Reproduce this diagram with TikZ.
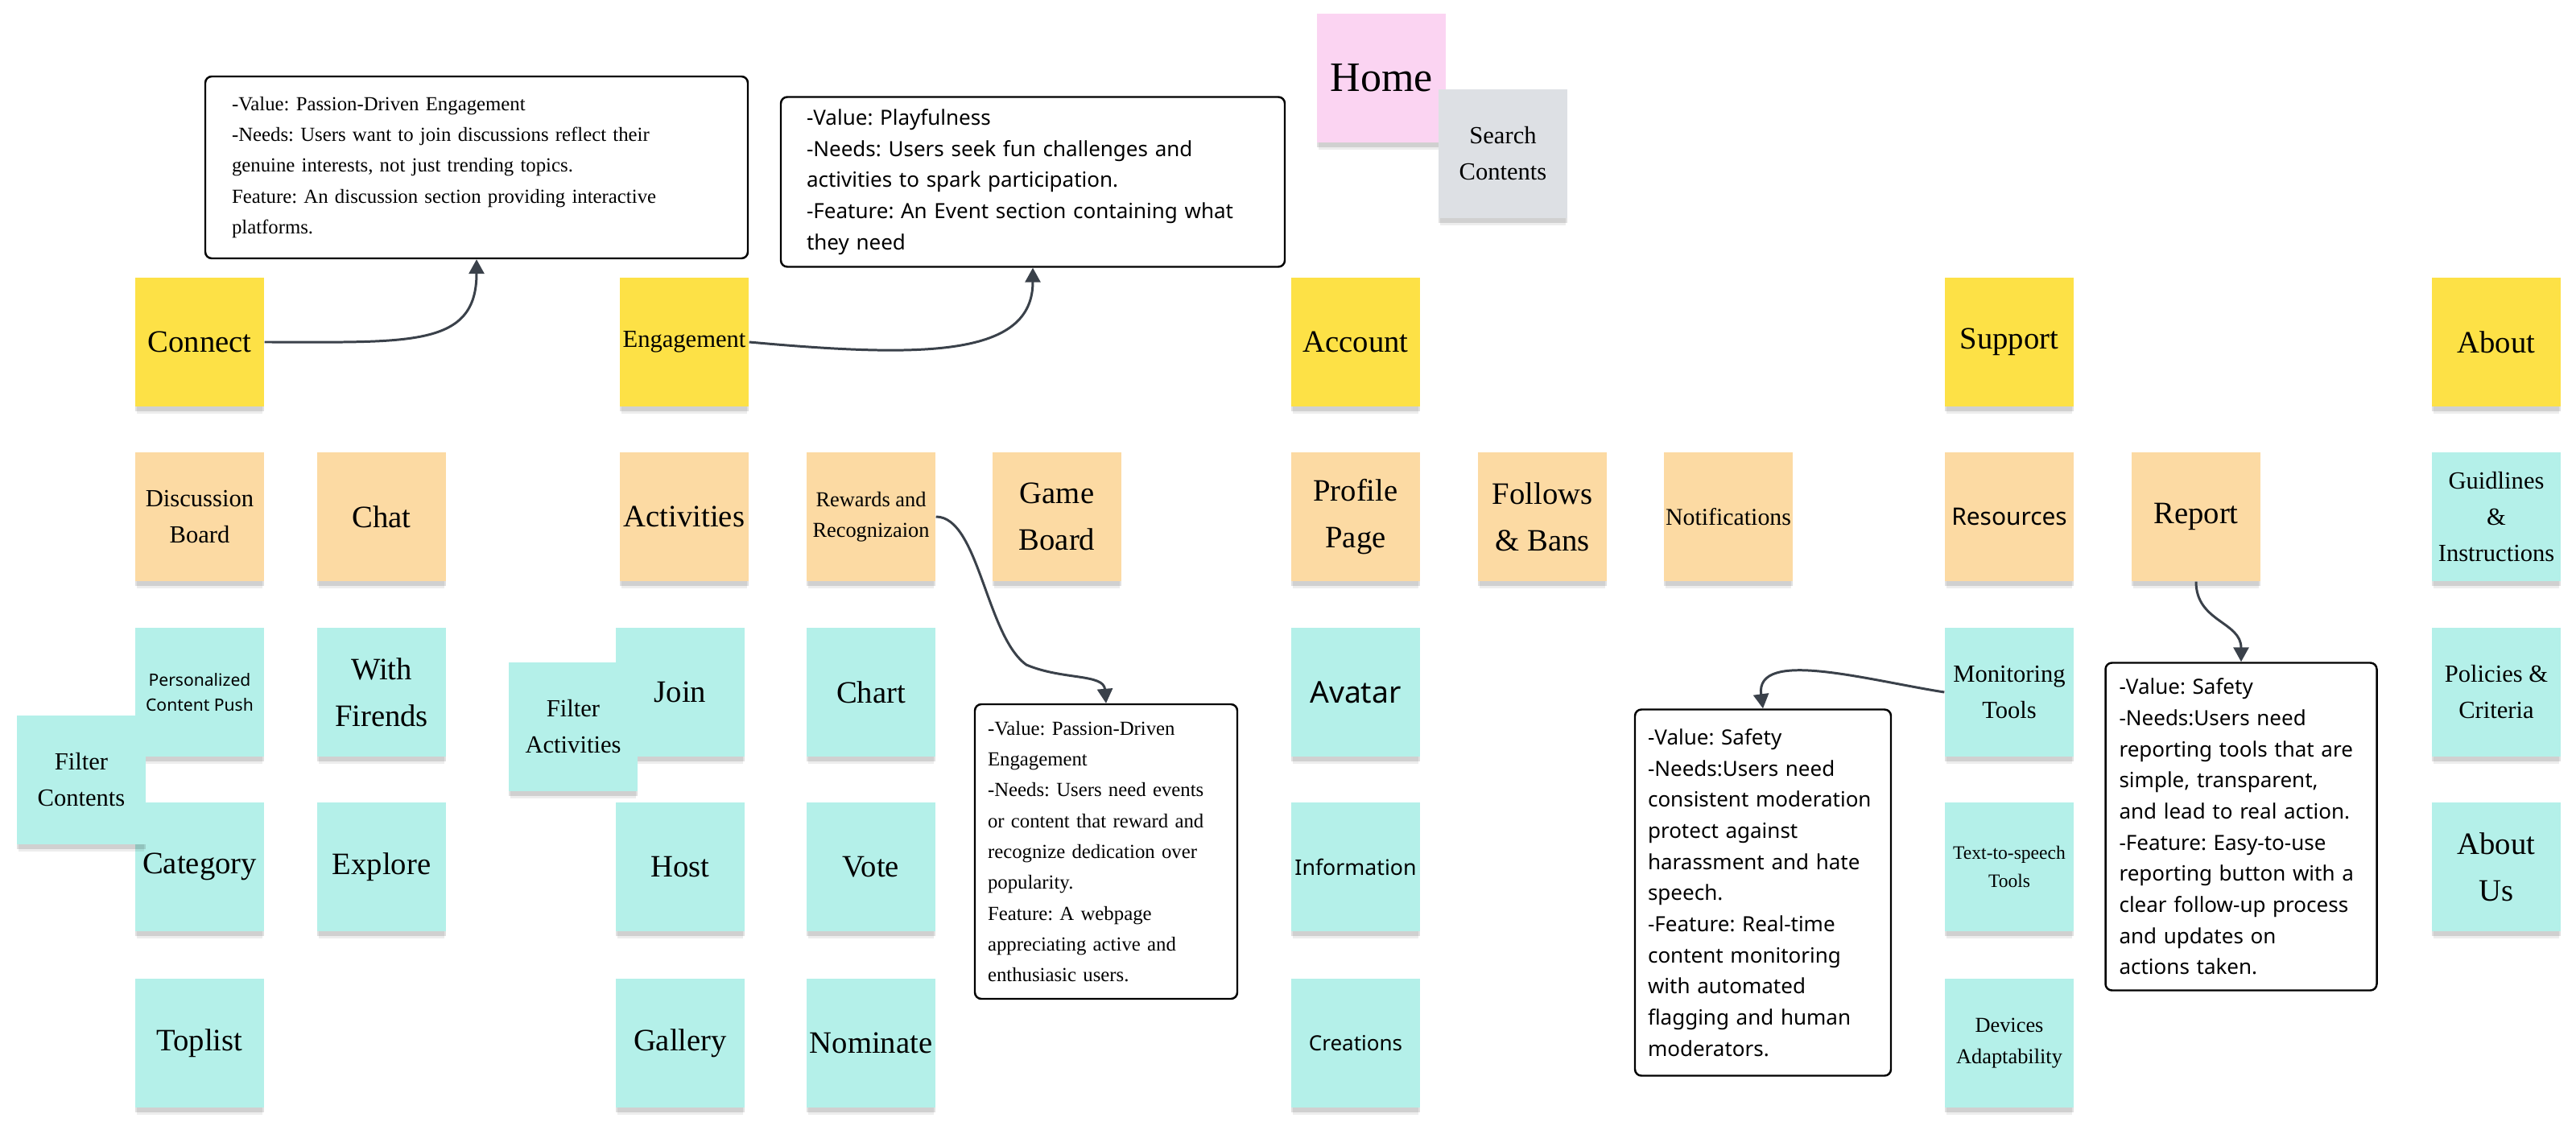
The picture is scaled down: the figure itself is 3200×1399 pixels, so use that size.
\documentclass[tikz,border=0pt]{standalone}
\usepackage{fontspec}
\setmainfont{Liberation Serif}
\newfontfamily\uisans{Noto Sans}
\usetikzlibrary{arrows.meta,shadows}
\frenchspacing

\definecolor{noteyellow}{RGB}{253,225,70}
\definecolor{notepeach}{RGB}{252,218,163}
\definecolor{notecyan}{RGB}{180,240,233}
\definecolor{notepink}{RGB}{251,212,242}
\definecolor{notegray}{RGB}{221,224,228}
\definecolor{linkgray}{RGB}{58,65,74}

\tikzset{
  sticky/.style={rectangle, minimum width=16mm, minimum height=16mm, inner sep=0pt, align=center,
    drop shadow={shadow xshift=0mm, shadow yshift=-1.2mm, shadow scale=0.97, opacity=0.07, fill=black},
    drop shadow={shadow xshift=0mm, shadow yshift=-0.6mm, opacity=0.12, fill=black}},
  yellownote/.style={sticky, fill=noteyellow},
  peachnote/.style={sticky, fill=notepeach},
  cyannote/.style={sticky, fill=notecyan},
  pinknote/.style={sticky, fill=notepink},
  graynote/.style={sticky, fill=notegray},
  bigtext/.style={font=\fontsize{11}{16.5}\selectfont},
  midtext/.style={font=\fontsize{8.7}{12.8}\selectfont},
  smalltext/.style={font=\fontsize{7.5}{10.9}\selectfont},
  notebox/.style={draw=black, line width=0.7pt, rounded corners=0.8mm, fill=white, align=left, inner ysep=0pt},
  serifbox/.style={notebox, font=\fontsize{7.05}{10.9}\selectfont},
  sansbox/.style={notebox, font=\uisans\fontsize{7.4}{11}\selectfont},
  link/.style={draw=linkgray, line width=0.85pt, -{Triangle[length=1.8mm,width=1.9mm]}}
}

\begin{document}
\begin{tikzpicture}[x=0.1mm, y=-0.1mm]
\useasboundingbox (0,0) rectangle (3200,1399);

	% top of the site
	\node (H0)[pinknote] at (1716,97){\fontsize{14.8}{18}\selectfont Home};
	\node (H1)[graynote, midtext] at (1867,191){Search\\Contents};

	% main menu
	\node (C0)[yellownote, bigtext] at (248,425){Connect};
	\node (E0)[yellownote, midtext] at (850,425){Engagement};
	\node (A0)[yellownote, bigtext] at (1684,425){Account};
	\node (S0)[yellownote, bigtext] at (2496,425){Support};
	\node (B0)[yellownote, bigtext] at (3101,425){About};

	% Connect
	\node (C1)[peachnote, midtext] at (248,642){Discussion\\Board};
	\node (C2)[peachnote, bigtext] at (474,642){Chat};
	\node (C3)[cyannote, font=\uisans\fontsize{6}{9}\selectfont] at (248,860){Personalized\\Content Push};
	\node (C4)[cyannote, bigtext] at (474,860){With\\Firends};
	\node (C6)[cyannote, bigtext] at (248,1077){Category};
	\node (C7)[cyannote, bigtext] at (474,1077){Explore};
	\node (C8)[cyannote, bigtext] at (248,1296){Toplist};
	\node (C5)[cyannote, midtext] at (101,969){Filter\\Contents};

	% Engagement
	\node (E1)[peachnote, bigtext] at (850,642){Activities};
	\node (E2)[peachnote, smalltext] at (1082,642){Rewards and\\Recognizaion};
	\node (E3)[peachnote, bigtext] at (1313,642){Game\\Board};
	\node (E4)[cyannote, bigtext] at (845,860){Join};
	\node (E6)[cyannote, bigtext] at (1082,860){Chart};
	\node (E7)[cyannote, bigtext] at (845,1077){Host};
	\node (E8)[cyannote, bigtext] at (1082,1077){Vote};
	\node (E9)[cyannote, bigtext] at (845,1296){Gallery};
	\node (E10)[cyannote, bigtext] at (1082,1296){Nominate};
	\node (E5)[cyannote, midtext] at (712,903){Filter\\Activities};

	% Account
	\node (A1)[peachnote, bigtext] at (1684,642){Profile\\Page};
	\node (A2)[peachnote, bigtext] at (1916,642){Follows\\\& Bans};
	\node (A3)[peachnote, font=\fontsize{8.5}{12}\selectfont] at (2147,642){Notifications};
	\node (A4)[cyannote, font=\uisans\fontsize{10.6}{14}\selectfont] at (1684,860){Avatar};
	\node (A5)[cyannote, font=\uisans\fontsize{7.6}{10}\selectfont] at (1684,1077){Information};
	\node (A6)[cyannote, font=\uisans\fontsize{7.4}{10}\selectfont] at (1684,1296){Creations};

	% Support
	\node (S1)[peachnote, font=\uisans\fontsize{8.5}{12}\selectfont] at (2496,642){Resources};
	\node (S2)[peachnote, bigtext] at (2728,642){Report};
	\node (S3)[cyannote, midtext] at (2496,860){Monitoring\\Tools};
	\node (S4)[cyannote, font=\fontsize{6.7}{9.8}\selectfont] at (2496,1077){Text-to-speech\\Tools};
	\node (S5)[cyannote, smalltext] at (2496,1296){Devices\\Adaptability};

	% About
	\node (B1)[cyannote, midtext] at (3101,642){Guidlines\\\&\\Instructions};
	\node (B2)[cyannote, midtext] at (3101,860){Policies \&\\Criteria};
	\node (B3)[cyannote, bigtext] at (3101,1077){About\\Us};

	% value / needs / feature notes
	\node (N1)[serifbox, text width=60.8mm, inner xsep=3.3mm, minimum height=22.6mm] at (592,208){-Value: Passion-Driven Engagement\\-Needs: Users want to join discussions reflect their\\genuine interests, not just trending topics.\\Feature: An discussion section providing interactive\\platforms.};
	\node (N2)[sansbox, text width=56.2mm, inner xsep=3.2mm, minimum height=21.1mm] at (1283,226){-Value: Playfulness\\-Needs: Users seek fun challenges and\\activities to spark participation.\\-Feature: An Event section containing what\\they need};
	\node (N3)[serifbox, text width=29.4mm, inner xsep=1.6mm, minimum height=36.6mm] at (1374,1058){-Value: Passion-Driven\\Engagement\\-Needs: Users need events\\or content that reward and\\recognize dedication over\\popularity.\\Feature: A webpage\\appreciating active and\\enthusiasic users.};
	\node (N4)[sansbox, text width=28.6mm, inner xsep=1.6mm, minimum height=45.5mm] at (2190,1109){-Value: Safety\\-Needs:Users need\\consistent moderation\\protect against\\harassment and hate\\speech.\\-Feature: Real-time\\content monitoring\\with automated\\flagging and human\\moderators.};
	\node (N5)[sansbox, text width=30.3mm, inner xsep=1.7mm, minimum height=40.7mm] at (2784,1027){-Value: Safety\\-Needs:Users need\\reporting tools that are\\simple, transparent,\\and lead to real action.\\-Feature: Easy-to-use\\reporting button with a\\clear follow-up process\\and updates on\\actions taken.};

	\draw [link] (C0.east) .. controls +(180,0) and +(0,110) .. (N1.south);
	\draw [link] (E0.east) .. controls +(220,20) and +(0,110) .. (N2.south);
	\draw [link] (E2.east) .. controls +(53,0) and +(-50,-36) .. (1275,826) .. controls +(45,19) and +(-3,-37) .. (N3.north);
	\draw [link] (S3.west) .. controls +(-96,-15) and +(-10,-75) .. (N4.north);
	\draw [link] (S2.south) .. controls +(0,50) and +(0,-50) .. (N5.north);

\end{tikzpicture}
\end{document}
